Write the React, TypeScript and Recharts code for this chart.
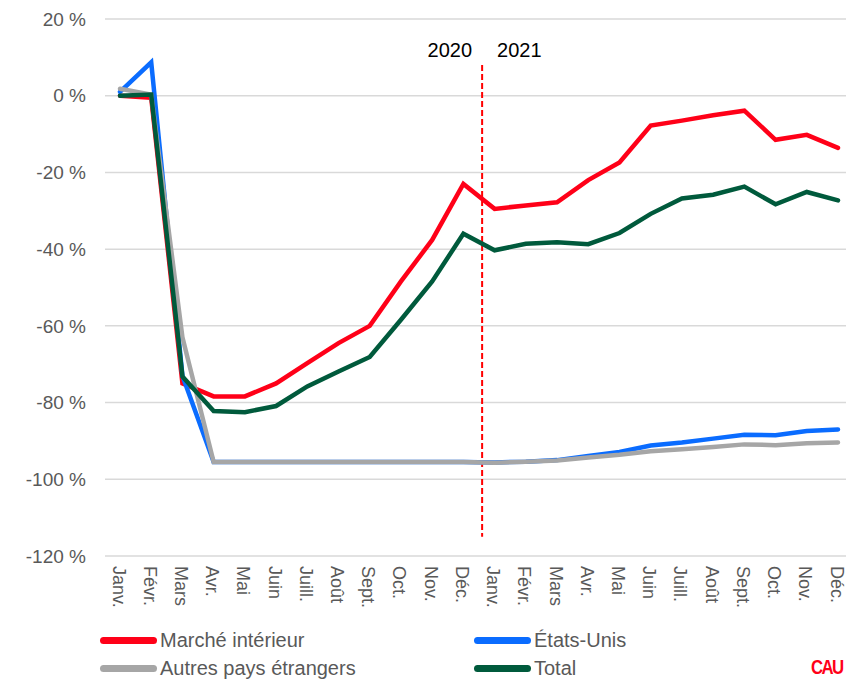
import React from 'react';
import { LineChart, Line, XAxis, YAxis, CartesianGrid, ReferenceLine, Legend } from 'recharts';

const months = [
  'Janv.', 'Févr.', 'Mars', 'Avr.', 'Mai', 'Juin', 'Juill.', 'Août', 'Sept.', 'Oct.', 'Nov.', 'Déc.',
  'Janv.', 'Févr.', 'Mars', 'Avr.', 'Mai', 'Juin', 'Juill.', 'Août', 'Sept.', 'Oct.', 'Nov.', 'Déc.',
];

const marcheInterieur = [0, -0.5, -75, -78.4, -78.4, -75, -69.7, -64.5, -60, -48.4, -37.6, -23,
  -29.5, -28.6, -27.8, -22, -17.4, -7.8, -6.5, -5.1, -3.9, -11.5, -10.2, -13.6];
const etatsUnis = [1, 8.7, -73, -95.5, -95.5, -95.5, -95.5, -95.5, -95.5, -95.5, -95.5, -95.5,
  -95.6, -95.4, -95, -93.9, -92.9, -91.2, -90.4, -89.4, -88.4, -88.5, -87.4, -87];
const autresPays = [1.8, 0.3, -63, -95.5, -95.5, -95.5, -95.5, -95.5, -95.5, -95.5, -95.5, -95.5,
  -95.7, -95.4, -95.1, -94.3, -93.6, -92.7, -92.2, -91.6, -90.9, -91.1, -90.6, -90.4];
const total = [0, 0.3, -73.2, -82.2, -82.5, -80.9, -75.8, -71.9, -68.1, -58.4, -48.4, -36,
  -40.3, -38.6, -38.2, -38.7, -35.8, -30.8, -26.8, -25.8, -23.7, -28.3, -25.1, -27.3];

const seriesNames = ['Marché intérieur', 'États-Unis', 'Autres pays étrangers', 'Total'];
const yTicks = [20, 0, -20, -40, -60, -80, -100, -120];
const yearSplit = 11.6;
const yearLabels = ['2020', '2021'];

const data = months.map((m, i) => ({
  idx: i,
  month: m,
  marche: marcheInterieur[i],
  us: etatsUnis[i],
  autres: autresPays[i],
  total: total[i],
}));

const FONT = '"Liberation Sans", Arial, sans-serif';
const GREY_TEXT = '#595959';

const MonthTick = (props: any) => {
  const { x, y, payload } = props;
  const tx = x - 1.5;
  return (
    <text
      x={tx}
      y={y}
      transform={`rotate(90 ${tx} ${y})`}
      textAnchor="start"
      dominantBaseline="central"
      fill={GREY_TEXT}
      fontSize={18}
      fontFamily={FONT}
    >
      {months[payload.value]}
    </text>
  );
};

const YearLabels = (props: any) => {
  const vb = props.viewBox || {};
  const x = vb.x ?? 0;
  const y = vb.y ?? 0;
  return (
    <g fontFamily={FONT} fontSize={20} fill="#000">
      <text x={x - 10} y={y - 8} textAnchor="end">{yearLabels[0]}</text>
      <text x={x + 15} y={y - 8} textAnchor="start">{yearLabels[1]}</text>
    </g>
  );
};

const renderLegend = (props: any) => {
  const payload = [...(props.payload || [])].sort(
    (a: any, b: any) => seriesNames.indexOf(a.value) - seriesNames.indexOf(b.value)
  );
  const cols = [100, 474];
  return (
    <div style={{ position: 'relative', width: 846, height: 56 }}>
      {payload.map((item: any, i: number) => (
        <div
          key={item.value}
          style={{
            position: 'absolute',
            left: cols[i % 2],
            top: Math.floor(i / 2) * 28.5,
            height: 26,
            display: 'flex',
            alignItems: 'center',
            fontFamily: FONT,
            fontSize: 20,
            color: GREY_TEXT,
            whiteSpace: 'nowrap',
          }}
        >
          <span style={{ display: 'inline-block', width: 57, height: 7, borderRadius: 4, background: item.color, marginRight: 3 }} />
          {item.value}
        </div>
      ))}
    </div>
  );
};

export default function App() {
  return (
    <div style={{ position: 'absolute', left: 0, top: 0, width: 846, height: 679, overflow: 'hidden', background: '#fff' }}>
      <LineChart width={846} height={679} data={data} margin={{ top: 19, right: 0, bottom: 93, left: 0 }}>
        <CartesianGrid vertical={false} stroke="#D9D9D9" strokeWidth={1.5} />
        <XAxis
          dataKey="idx"
          type="number"
          domain={[0, 23]}
          ticks={months.map((_, i) => i)}
          interval={0}
          padding={{ left: 15, right: 8 }}
          axisLine={false}
          tickLine={false}
          tickSize={0}
          tickMargin={10}
          height={30}
          tick={<MonthTick />}
        />
        <YAxis
          domain={[-120, 20]}
          ticks={yTicks}
          interval={0}
          width={105}
          axisLine={false}
          tickLine={false}
          tickSize={0}
          tickMargin={19}
          tickFormatter={(v: number) => `${v}\u00a0%`}
          tick={{ fill: GREY_TEXT, fontSize: 19, fontFamily: FONT }}
        />
        <ReferenceLine
          segment={[{ x: yearSplit, y: 8 }, { x: yearSplit, y: -115 }]}
          stroke="#FF0000"
          strokeWidth={2}
          strokeDasharray="6 3"
          label={<YearLabels />}
        />
        <Line name={seriesNames[0]} dataKey="marche" stroke="#FF0018" strokeWidth={4.5} dot={false} strokeLinecap="round" isAnimationActive={false} />
        <Line name={seriesNames[1]} dataKey="us" stroke="#0A6CFF" strokeWidth={4.5} dot={false} strokeLinecap="round" isAnimationActive={false} />
        <Line name={seriesNames[2]} dataKey="autres" stroke="#A6A6A6" strokeWidth={4.5} dot={false} strokeLinecap="round" isAnimationActive={false} />
        <Line name={seriesNames[3]} dataKey="total" stroke="#005A3C" strokeWidth={4.5} dot={false} strokeLinecap="round" isAnimationActive={false} />
        <Legend
          layout="vertical"
          align="center"
          verticalAlign="middle"
          itemSorter={null as any}
          wrapperStyle={{ position: 'absolute', left: 0, top: 627, width: 846, height: 56 }}
          content={renderLegend}
        />
      </LineChart>
      <span
        style={{
          position: 'absolute',
          left: 811,
          top: 655,
          color: '#FF0018',
          fontFamily: FONT,
          fontWeight: 'bold',
          fontSize: 21,
          letterSpacing: -2,
          transform: 'scaleX(0.8)',
          transformOrigin: 'left top',
        }}
      >
        CAU
      </span>
    </div>
  );
}
